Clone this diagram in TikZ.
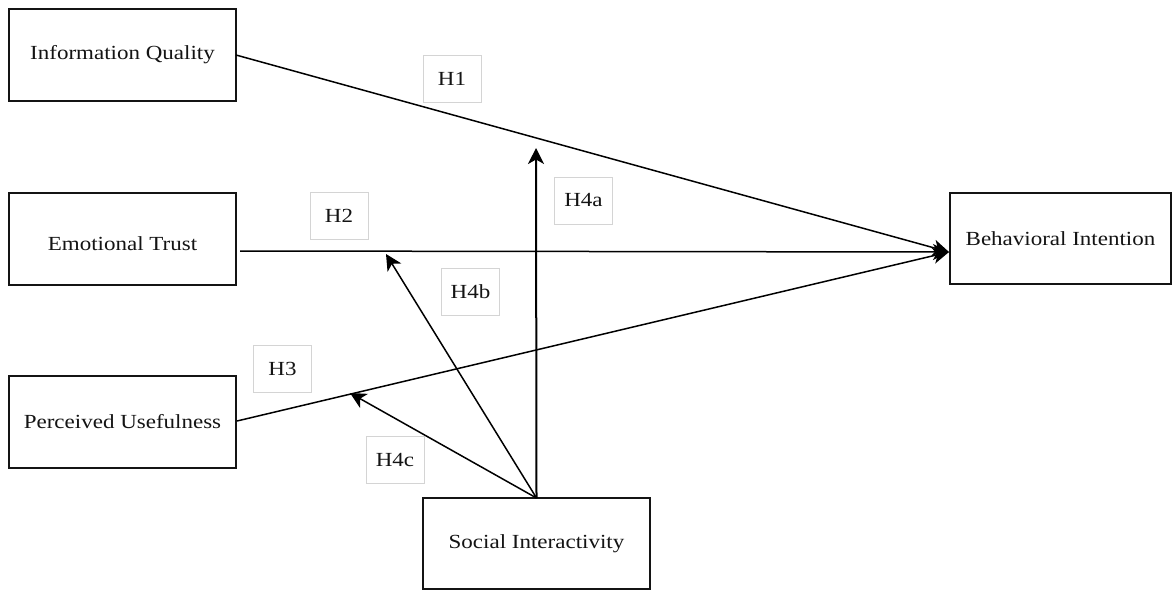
\documentclass[tikz,border=0pt]{standalone}
\usepackage{fontspec}
\setmainfont{Liberation Serif}[FakeStretch=1.15]
\usetikzlibrary{arrows.meta,calc}
\definecolor{ink}{HTML}{141414}
\definecolor{framegray}{HTML}{D4D4D4}
\begin{document}
\begin{tikzpicture}[x=1pt,y=-1pt,
  construct/.style={draw=ink,line width=1.7pt,minimum width=227pt,minimum height=92pt,
    inner sep=0pt,outer sep=0pt,text=ink,font=\fontsize{20}{24}\selectfont},
  hyp/.style={draw=framegray,line width=0.7pt,minimum width=58pt,minimum height=47pt,
    inner sep=0pt,text=ink,font=\fontsize{20}{24}\selectfont},
  path/.style={draw=black,line width=1.5pt,-{Stealth[length=16pt,width=16pt,inset=4.5pt]}}]
\useasboundingbox (0,0) rectangle (1172,590);
\fill[white] (0,0) rectangle (1172,590);

% constructs
\node[construct] (IQ) at (122.5,55) {Information Quality};
\node[construct] (ET) at (122.5,239) {\raisebox{-5pt}[\height][\depth]{Emotional Trust}};
\node[construct] (PU) at (122.5,422) {Perceived Usefulness};
\node[construct,minimum width=221pt,minimum height=91pt] (BI) at (1060.5,238.5) {Behavioral Intention};
\node[construct,minimum height=91pt] (SI) at (536.5,543.5) {Social Interactivity};

% attachment points
\coordinate (BIin) at ($(BI.west)+(-1,13.5)$);
\coordinate (ETout) at ($(ET.east)+(4,12)$);
\coordinate (PUout) at ($(PU.east)+(1,-1)$);
\coordinate (SIout) at (SI.north);
\coordinate (modA) at (536,148);
\coordinate (modB) at (386,254);
\coordinate (modC) at (350,393);

% direct effects
\draw[path] (IQ.east) -- (BIin);
\draw[path] (ETout) -- (BIin);
\draw[path] (PUout) -- (BIin);

% moderating effects
\draw[path,line width=2pt] (SIout) -- (modA);
\draw[path] (SIout) -- (modB);
\draw[path] (SIout) -- (modC);

% hypothesis labels
\node[hyp] (h1) at (452,78.5) {H1};
\node[hyp] (h2) at (339,216) {H2};
\node[hyp] (h3) at (282.5,368.5) {H3};
\node[hyp] (h4a) at (583.5,200.5) {H4a};
\node[hyp] (h4b) at (470.5,292) {H4b};
\node[hyp] (h4c) at (395,460) {H4c};
\end{tikzpicture}
\end{document}
